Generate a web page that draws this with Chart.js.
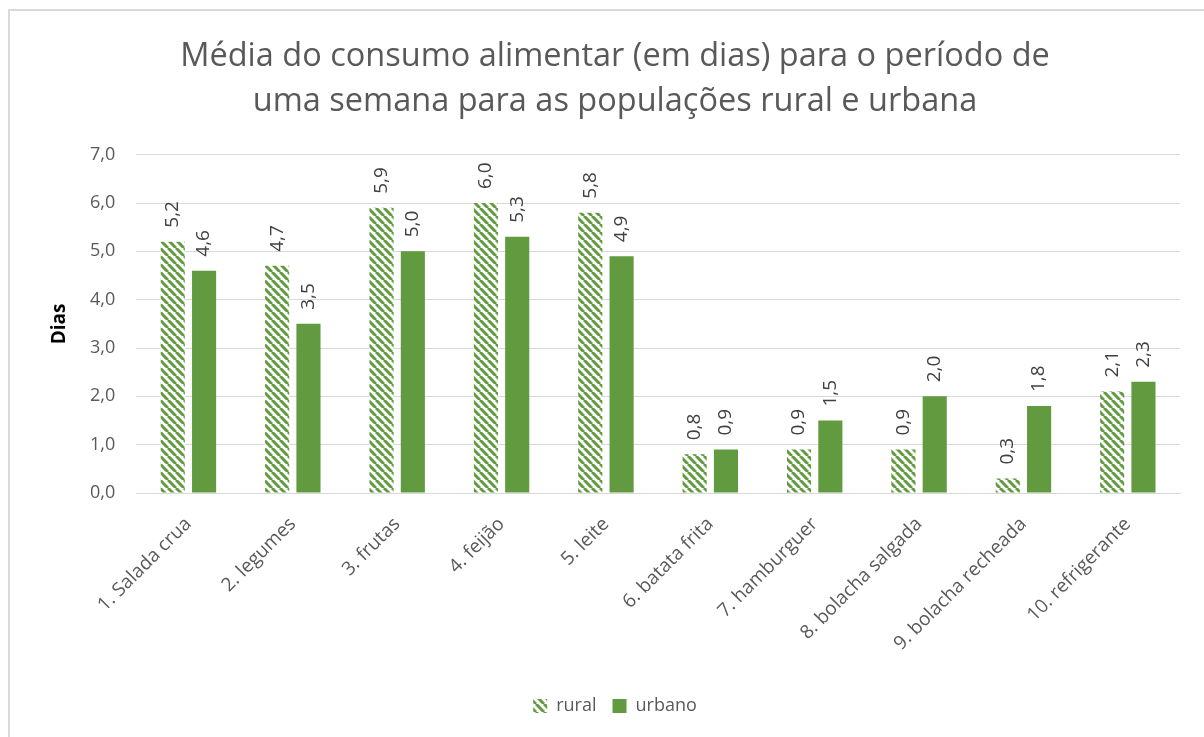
<!DOCTYPE html>
<html>
<head>
<meta charset="utf-8">
<script src="https://cdn.jsdelivr.net/npm/chart.js@4"></script>
<style>
  html, body { margin: 0; padding: 0; background: #fff; }
  #wrap { position: relative; width: 1204px; height: 737px; overflow: hidden; }
  #frame { position: absolute; left: 8px; top: 9px; width: 1300px; height: 900px; border: 2px solid #d9d9d9; box-sizing: border-box; }
  canvas { position: absolute; left: 0; top: 0; }
</style>
</head>
<body>
<div id="wrap">
  <div id="frame"></div>
  <canvas id="chart" width="1204" height="737"></canvas>
</div>
<script>
const categories = ['1. Salada crua', '2. legumes', '3. frutas', '4. feijão', '5. leite',
  '6. batata frita', '7. hamburguer', '8. bolacha salgada', '9. bolacha recheada', '10. refrigerante'];
const rural = [5.2, 4.7, 5.9, 6.0, 5.8, 0.8, 0.9, 0.9, 0.3, 2.1];
const urbano = [4.6, 3.5, 5.0, 5.3, 4.9, 0.9, 1.5, 2.0, 1.8, 2.3];
const titleLines = ['Média do consumo alimentar (em dias) para o período de',
  'uma semana para as populações rural e urbana'];

const GREEN = '#619a3f';
const FONT = 'Open Sans';

function makeStripes(color) {
    const size = 8;
    const c = document.createElement('canvas');
    c.width = size; c.height = size;
    const g = c.getContext('2d');
    g.fillStyle = '#fff';
    g.fillRect(0, 0, size, size);
    g.strokeStyle = color;
    g.lineWidth = 3;
    for (let k = -1; k <= 1; k++) {
        g.beginPath();
        g.moveTo(k * size, 0);
        g.lineTo(k * size + size, size);
        g.stroke();
    }
    return g.createPattern(c, 'repeat');
}

const fmt = v => v.toFixed(1).replace('.', ',');

const valueLabels = {
    id: 'valueLabels',
    afterDatasetsDraw(chart) {
        const ctx = chart.ctx;
        ctx.save();
        ctx.fillStyle = '#404040';
        ctx.font = '19px "' + FONT + '"';
        ctx.textAlign = 'left';
        ctx.textBaseline = 'middle';
        chart.data.datasets.forEach((ds, i) => {
            chart.getDatasetMeta(i).data.forEach((bar, j) => {
                ctx.save();
                ctx.translate(bar.x, bar.y - 14);
                ctx.rotate(-Math.PI / 2);
                ctx.fillText(fmt(ds.data[j]), 0, 0);
                ctx.restore();
            });
        });
        ctx.restore();
    }
};

const ctx = document.getElementById('chart').getContext('2d');
new Chart(ctx, {
    type: 'bar',
    data: {
        labels: categories,
        datasets: [
            { label: 'rural', data: rural, backgroundColor: makeStripes(GREEN), borderWidth: 0 },
            { label: 'urbano', data: urbano, backgroundColor: GREEN, borderWidth: 0 }
        ]
    },
    options: {
        responsive: false,
        animation: false,
        layout: { padding: { top: 34, right: 24, left: 50, bottom: 12 } },
        datasets: { bar: { categoryPercentage: 0.6, barPercentage: 0.77 } },
        scales: {
            x: {
                grid: { display: false },
                border: { display: true, color: '#d9d9d9' },
                ticks: { color: '#595959', padding: 12, font: { family: FONT, size: 19 }, minRotation: 45, maxRotation: 45 },
                afterFit: scale => { scale.height = 188; }
            },
            y: {
                min: 0, max: 7,
                border: { display: false },
                grid: { color: '#d9d9d9', drawTicks: false },
                ticks: { stepSize: 1, color: '#595959', padding: 21, font: { family: FONT, size: 18 }, callback: v => fmt(v) },
                title: { display: true, text: 'Dias', color: '#000', padding: 0, font: { family: FONT, size: 19, weight: 'bold', lineHeight: 1 } }
            }
        },
        plugins: {
            title: {
                display: true, text: titleLines, color: '#595959',
                font: { family: FONT, size: 32.5, weight: 'normal', lineHeight: 1.38 },
                padding: { bottom: 31 }
            },
            legend: {
                position: 'bottom',
                labels: { color: '#595959', boxWidth: 14, boxHeight: 14, font: { family: FONT, size: 18 }, padding: 16 }
            },
            tooltip: { enabled: false }
        }
    },
    plugins: [valueLabels]
});
</script>
</body>
</html>
